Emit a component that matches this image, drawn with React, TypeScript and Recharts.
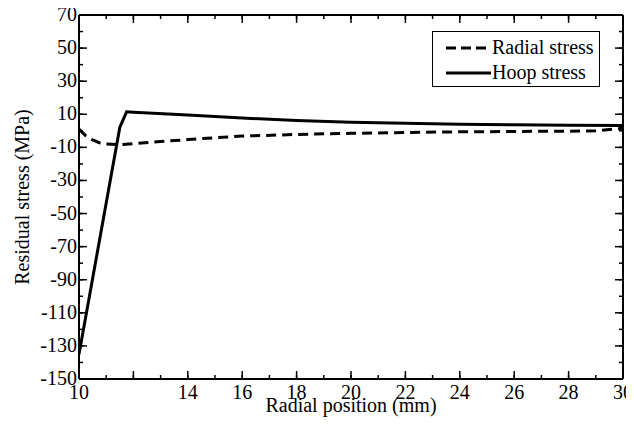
import React from 'react'
import { LineChart, Line, XAxis, YAxis, Legend } from 'recharts'

// radial position (mm) and stress (MPa)
const hoopX = [10, 11.5, 11.75, 12, 14, 16, 18, 20, 22, 24, 26, 28, 30]
const hoopY = [-135, 2, 11.5, 11.2, 9.5, 7.7, 6.2, 5.2, 4.5, 4, 3.7, 3.4, 3.2]

const radialX = [10, 10.25, 10.5, 10.75, 11, 11.5, 12, 13, 14, 15, 16, 18, 20, 22, 24, 26, 28, 29, 29.5, 30]
const radialY = [1, -3, -5.5, -7.2, -8, -8.3, -7.8, -6.5, -5.3, -4.2, -3.2, -2.2, -1.5, -1, -0.6, -0.4, -0.2, 0, 0.8, 1.5]

const xTicks = [10, 11, 12, 13, 14, 15, 16, 17, 18, 19, 20, 21, 22, 23, 24, 25, 26, 27, 28, 29, 30]
const xLabelled = [10, 14, 16, 18, 20, 22, 24, 26, 28, 30]
const yTicks = [-150, -140, -130, -120, -110, -100, -90, -80, -70, -60, -50, -40, -30, -20, -10, 0, 10, 20, 30, 40, 50, 60, 70]
const yLabelled = [-150, -130, -110, -90, -70, -50, -30, -10, 10, 30, 50, 70]

const hoopData = hoopX.map((x, i) => ({ x, hoop: hoopY[i] }))
const radialData = radialX.map((x, i) => ({ x, radial: radialY[i] }))

const FONT = 'Liberation Serif'
const axisLine = { stroke: '#000', strokeWidth: 2 }
const tickLine = { stroke: '#000', strokeWidth: 1.5 }
// built-in tick lines are the short (minor) ticks, pointing inward;
// with tickMargin = -tickSize the renderer gets the point on the axis line
const MINOR = -4
const MAJOR = 8

const BottomTick = (p: any) => {
  const v = p.payload.value
  return (
    <g>
      {v % 2 === 0 && <path d={`M${p.x},${p.y}V${p.y - MAJOR}`} style={{ stroke: '#000', strokeWidth: 1.5 }} fill="none" />}
      {xLabelled.includes(v) && (
        <text x={p.x} y={p.y + 20} textAnchor="middle" style={{ fontSize: 20, fontFamily: FONT }} fill="#000">{v}</text>
      )}
    </g>
  )
}

const TopTick = (p: any) =>
  p.payload.value % 2 === 0 ? <path d={`M${p.x},${p.y}V${p.y + MAJOR}`} style={{ stroke: '#000', strokeWidth: 1.5 }} fill="none" /> : <g />

const LeftTick = (p: any) => {
  const v = p.payload.value
  const major = yLabelled.includes(v)
  return (
    <g>
      {major && <path d={`M${p.x},${p.y}H${p.x + MAJOR}`} style={{ stroke: '#000', strokeWidth: 1.5 }} fill="none" />}
      {major && (
        <text x={p.x - 2} y={p.y + 6} textAnchor="end" style={{ fontSize: 20, fontFamily: FONT }} fill="#000">{v}</text>
      )}
    </g>
  )
}

const RightTick = (p: any) =>
  yLabelled.includes(p.payload.value) ? <path d={`M${p.x},${p.y}H${p.x - MAJOR}`} style={{ stroke: '#000', strokeWidth: 1.5 }} fill="none" /> : <g />

const XTitle = (p: any) => {
  const vb = p.viewBox
  return (
    <text x={vb.x + vb.width / 2} y={404} textAnchor="middle" style={{ fontSize: 20, fontFamily: FONT }} fill="#000">
      Radial position (mm)
    </text>
  )
}

const YTitle = (p: any) => {
  const vb = p.viewBox
  const cy = vb.y + vb.height / 2
  return (
    <text x={21} y={cy} transform={`rotate(-90 21 ${cy})`} textAnchor="middle" style={{ fontSize: 20, fontFamily: FONT }} fill="#000">
      Residual stress (MPa)
    </text>
  )
}

const LegendBox = () => (
  <div style={{ border: '1.5px solid #000', background: '#fff', width: 168, height: 56, boxSizing: 'border-box', fontFamily: FONT, fontSize: 20, color: '#000' }}>
    {[
      { name: 'Radial stress', dash: '10 5' },
      { name: 'Hoop stress', dash: undefined },
    ].map((r, i) => (
      <div key={i} style={{ display: 'flex', alignItems: 'center', height: 25, marginTop: i === 0 ? 3 : 0 }}>
        <svg width={56} height={10} style={{ marginLeft: 2 }}>
          <line x1={11} x2={56} y1={5} y2={5} stroke="#000" strokeWidth={3} strokeDasharray={r.dash} />
        </svg>
        <span style={{ marginLeft: 1, lineHeight: '25px' }}>{r.name}</span>
      </div>
    ))}
  </div>
)

export default function App() {
  return (
    <LineChart width={626} height={411} margin={{ top: 6, right: 10, bottom: 0, left: 0 }}>
      <XAxis
        xAxisId="b"
        dataKey="x"
        type="number"
        domain={[10, 30]}
        ticks={xTicks}
        interval={0}
        allowDataOverflow
        height={40}
        tickSize={MINOR}
        tickMargin={-MINOR}
        tickLine={tickLine}
        axisLine={axisLine}
        tick={BottomTick}
        label={{ content: XTitle }}
      />
      <XAxis
        xAxisId="t"
        orientation="top"
        dataKey="x"
        type="number"
        domain={[10, 30]}
        ticks={xTicks}
        interval={0}
        allowDataOverflow
        height={1}
        tickSize={MINOR}
        tickMargin={-MINOR}
        tickLine={tickLine}
        axisLine={axisLine}
        tick={TopTick}
      />
      <YAxis
        yAxisId="l"
        type="number"
        domain={[-150, 70]}
        ticks={yTicks}
        interval={0}
        allowDataOverflow
        width={71}
        tickSize={MINOR}
        tickMargin={-MINOR}
        tickLine={tickLine}
        axisLine={axisLine}
        tick={LeftTick}
        label={{ content: YTitle }}
      />
      <YAxis
        yAxisId="r"
        orientation="right"
        type="number"
        domain={[-150, 70]}
        ticks={yTicks}
        interval={0}
        allowDataOverflow
        width={1}
        tickSize={MINOR}
        tickMargin={-MINOR}
        tickLine={tickLine}
        axisLine={axisLine}
        tick={RightTick}
      />
      <Legend
        layout="vertical"
        align="center"
        verticalAlign="middle"
        content={LegendBox}
        wrapperStyle={{ left: 424, top: 23, width: 170, height: 58 }}
      />
      {/* invisible series so the top and right frame axes get drawn */}
      <Line
        xAxisId="t"
        yAxisId="r"
        data={radialData}
        dataKey="radial"
        stroke="none"
        dot={false}
        legendType="none"
        isAnimationActive={false}
      />
      <Line
        xAxisId="b"
        yAxisId="l"
        data={radialData}
        dataKey="radial"
        name="Radial stress"
        stroke="#000"
        strokeWidth={3}
        strokeDasharray="10 6"
        dot={false}
        type="linear"
        isAnimationActive={false}
      />
      <Line
        xAxisId="b"
        yAxisId="l"
        data={hoopData}
        dataKey="hoop"
        name="Hoop stress"
        stroke="#000"
        strokeWidth={3}
        dot={false}
        type="linear"
        isAnimationActive={false}
      />
    </LineChart>
  )
}
